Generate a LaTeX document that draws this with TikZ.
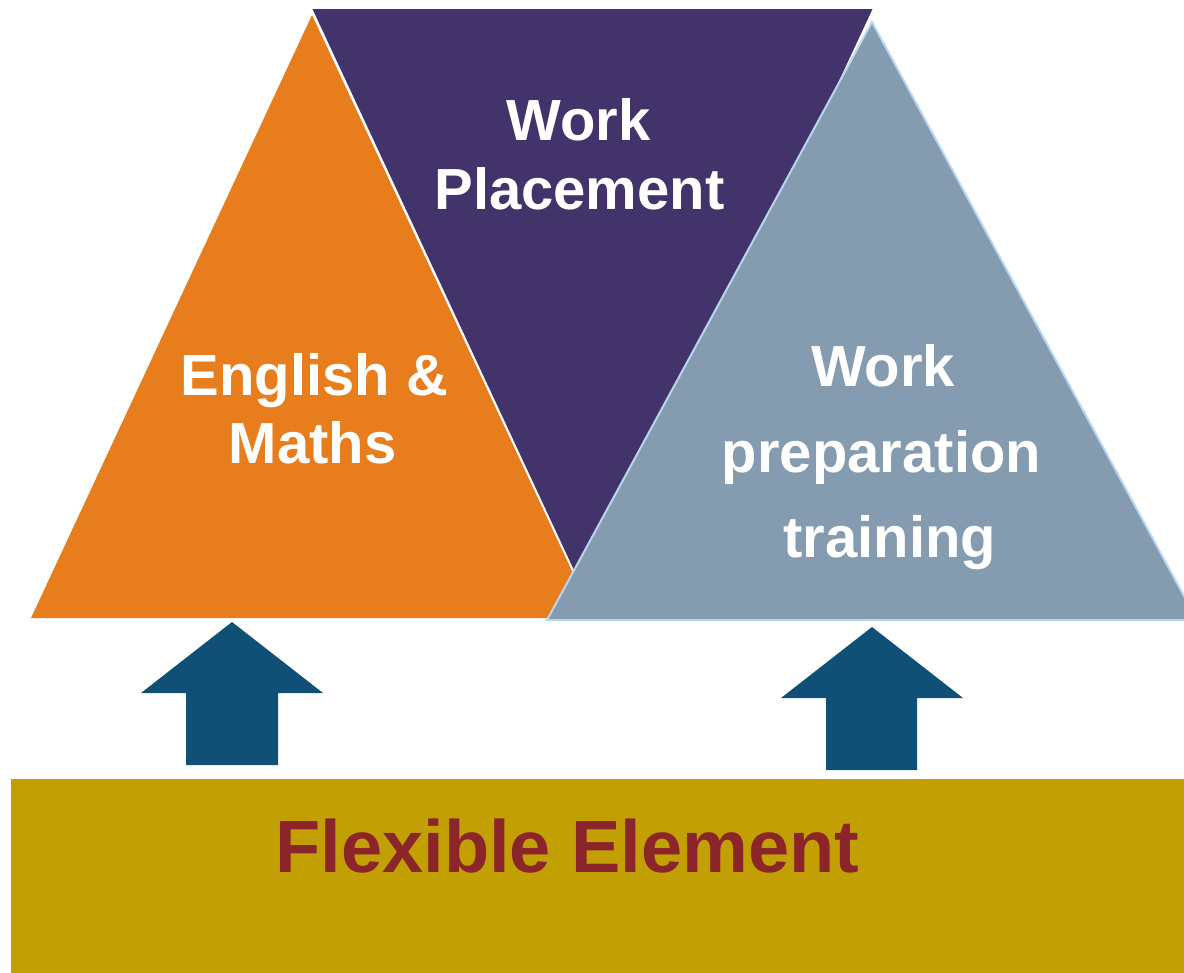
\documentclass[tikz,border=0pt]{standalone}
\usepackage{fontspec}
\setmainfont{Liberation Sans}
\definecolor{orangeT}{HTML}{E87D1E}
\definecolor{purpleT}{HTML}{42336A}
\definecolor{grayT}{HTML}{859BB0}
\definecolor{grayEdge}{HTML}{B8D6F0}
\definecolor{arrowBlue}{HTML}{105076}
\definecolor{goldBar}{HTML}{C2A004}
\definecolor{darkRed}{HTML}{8B2529}
\begin{document}
\begin{tikzpicture}[x=1pt,y=-1pt,
  tritext/.style={text=white,anchor=base,inner sep=0pt,font=\fontsize{58}{58}\selectfont\bfseries},
  bartext/.style={text=darkRed,anchor=base,inner sep=0pt,font=\fontsize{74}{74}\selectfont\bfseries},
  blockarrow/.style={fill=arrowBlue,draw=none}]
\useasboundingbox (0,0) rectangle (1184,973);
\begin{scope}
\clip (0,0) rectangle (1184,973);
% orange triangle
\fill[orangeT] (31,618) -- (312,15) -- (594,618) -- cycle;
% purple inverted triangle
\filldraw[fill=purpleT,draw=white,line width=1.6pt,line join=miter] (311,8) -- (874,8) -- (592.5,612) -- cycle;
% gray triangle
\filldraw[fill=grayT,draw=grayEdge,line width=2pt] (547,620) -- (872,22) -- (1197,620) -- cycle;
% gold bar
\fill[goldBar] (11,779) rectangle (1190,980);
% arrows
\fill[blockarrow] (232,622) -- (323,693) -- (278,693) -- (278,765) -- (186,765) -- (186,693) -- (141,693) -- cycle;
\fill[blockarrow] (872,627) -- (963,698) -- (917,698) -- (917,770) -- (826,770) -- (826,698) -- (781,698) -- cycle;
\end{scope}
% texts
\node[tritext] (wpA) at (578.5,141) {Work};
\node[tritext] (wpB) at (579.5,210) {Placement};
\node[tritext] (emA) at (314.5,396) {English \&};
\node[tritext] (emB) at (312.5,464) {Maths};
\node[tritext] (wtA) at (883,387) {Work};
\node[tritext] (wtB) at (881.5,472) {preparation};
\node[tritext] (wtC) at (890,557) {training};
\node[bartext] (flex) at (567.5,872) {Flexible Element};
\end{tikzpicture}
\end{document}
